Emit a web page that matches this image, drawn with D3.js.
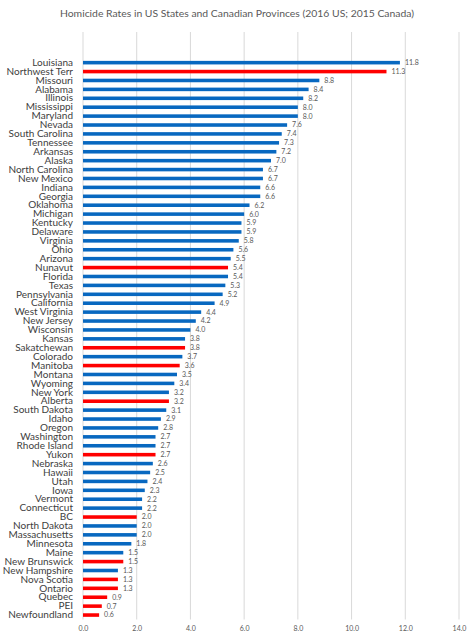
<!DOCTYPE html>
<html>
<head>
<meta charset="utf-8">
<script src="https://cdn.jsdelivr.net/npm/d3@7"></script>
<style>
  body { margin: 0; background: #fff; }
  svg { display: block; }
</style>
</head>
<body>
<div id="chart"></div>
<script>
// data (top to bottom)
var places = ["Louisiana", "Northwest Terr", "Missouri", "Alabama", "Illinois", "Mississippi", "Maryland",
  "Nevada", "South Carolina", "Tennessee", "Arkansas", "Alaska", "North Carolina", "New Mexico", "Indiana",
  "Georgia", "Oklahoma", "Michigan", "Kentucky", "Delaware", "Virginia", "Ohio", "Arizona", "Nunavut",
  "Florida", "Texas", "Pennsylvania", "California", "West Virginia", "New Jersey", "Wisconsin", "Kansas",
  "Sakatchewan", "Colorado", "Manitoba", "Montana", "Wyoming", "New York", "Alberta", "South Dakota",
  "Idaho", "Oregon", "Washington", "Rhode Island", "Yukon", "Nebraska", "Hawaii", "Utah", "Iowa",
  "Vermont", "Connecticut", "BC", "North Dakota", "Massachusetts", "Minnesota", "Maine", "New Brunswick",
  "New Hampshire", "Nova Scotia", "Ontario", "Quebec", "PEI", "Newfoundland"];

var rates = [11.8, 11.3, 8.8, 8.4, 8.2, 8.0, 8.0,
  7.6, 7.4, 7.3, 7.2, 7.0, 6.7, 6.7, 6.6,
  6.6, 6.2, 6.0, 5.9, 5.9, 5.8, 5.6, 5.5, 5.4,
  5.4, 5.3, 5.2, 4.9, 4.4, 4.2, 4.0, 3.8,
  3.8, 3.7, 3.6, 3.5, 3.4, 3.2, 3.2, 3.1,
  2.9, 2.8, 2.7, 2.7, 2.7, 2.6, 2.5, 2.4, 2.3,
  2.2, 2.2, 2.0, 2.0, 2.0, 1.8, 1.5, 1.5,
  1.3, 1.3, 1.3, 0.9, 0.7, 0.6];

var canadian = ["Northwest Terr", "Nunavut", "Sakatchewan", "Manitoba", "Alberta", "Yukon", "BC",
  "New Brunswick", "Nova Scotia", "Ontario", "Quebec", "PEI", "Newfoundland"];

var xTicks = [0, 2, 4, 6, 8, 10, 12, 14];

var width = 474, height = 640;
var plotLeft = 83, plotRight = 459,
    gridTop = 32, plotTop = 58.2, plotBottom = 619.5;

var rows = places.map(function (p, i) {
  return { name: p, value: rates[i], ca: canadian.indexOf(p) >= 0 };
});

var svg = d3.select("#chart").append("svg")
  .attr("width", width)
  .attr("height", height);

var x = d3.scaleLinear().domain([0, 14]).range([plotLeft, plotRight]);
var y = d3.scaleBand().domain(places).range([plotTop, plotBottom]).paddingInner(0.6).paddingOuter(0.3);

// title
svg.append("text")
  .attr("x", width / 2)
  .attr("y", 17)
  .attr("text-anchor", "middle")
  .style("font-family", "Lato, 'Open Sans', sans-serif")
  .style("font-size", "10.4px")
  .style("fill", "#595959")
  .text("Homicide Rates in US States and Canadian Provinces (2016 US; 2015 Canada)");

// gridlines
svg.selectAll(".grid")
  .data(xTicks)
  .enter()
  .append("line")
  .attr("x1", function (d) { return x(d); })
  .attr("x2", function (d) { return x(d); })
  .attr("y1", gridTop)
  .attr("y2", plotBottom)
  .attr("stroke", "#d9d9d9")
  .attr("stroke-width", 1);

// x axis labels
var xAxis = d3.axisBottom(x).tickValues(xTicks).tickSize(0).tickPadding(0)
  .tickFormat(d3.format(".1f"));
var gx = svg.append("g")
  .attr("transform", "translate(0," + (plotBottom + 7) + ")")
  .call(xAxis);
gx.select(".domain").remove();
gx.selectAll("text")
  .style("font-family", "Lato, 'Open Sans', sans-serif")
  .style("font-size", "7px")
  .style("fill", "#595959");

// bars
svg.selectAll(".bar")
  .data(rows)
  .enter()
  .append("rect")
  .attr("x", x(0))
  .attr("y", function (d) { return y(d.name); })
  .attr("width", function (d) { return x(d.value) - x(0); })
  .attr("height", y.bandwidth())
  .style("fill", function (d) { return d.ca ? "#ff0000" : "#0868c0"; });

// category labels
var yAxis = d3.axisLeft(y).tickSize(0).tickPadding(0);
var gy = svg.append("g")
  .attr("transform", "translate(" + (plotLeft - 10) + ",0)")
  .call(yAxis);
gy.select(".domain").remove();
gy.selectAll("text")
  .style("font-family", "Lato, 'Open Sans', sans-serif")
  .style("font-size", "10px")
  .style("fill", "#404040");

// value labels
svg.selectAll(".val")
  .data(rows)
  .enter()
  .append("text")
  .attr("x", function (d) { return x(d.value) + 5; })
  .attr("y", function (d) { return y(d.name) + y.bandwidth() / 2; })
  .attr("dy", "0.35em")
  .style("font-family", "Lato, 'Open Sans', sans-serif")
  .style("font-size", "7px")
  .style("fill", "#595959")
  .text(function (d) { return d.value.toFixed(1); });
</script>
</body>
</html>
